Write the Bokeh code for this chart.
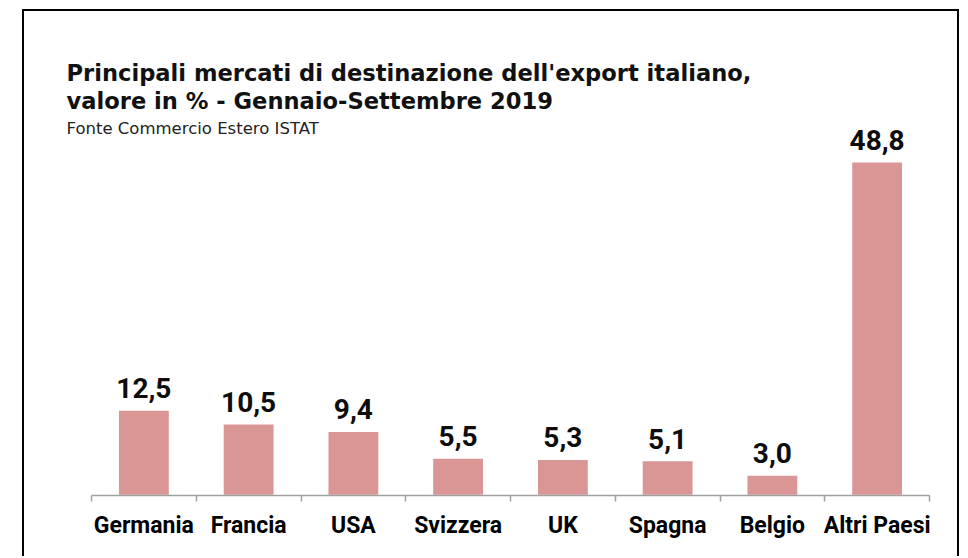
from bokeh.plotting import figure
from bokeh.models import ColumnDataSource, LabelSet, Label, FixedTicker, Range1d, LinearAxis
from bokeh.core.properties import value
from bokeh.embed import file_html
from bokeh.resources import INLINE

categories = ["Germania", "Francia", "USA", "Svizzera", "UK", "Spagna", "Belgio", "Altri Paesi"]
values = [12.5, 10.5, 9.4, 5.5, 5.3, 5.1, 3.0, 48.8]
value_labels = ["12,5", "10,5", "9,4", "5,5", "5,3", "5,1", "3,0", "48,8"]
title_line1 = "Principali mercati di destinazione dell'export italiano,"
title_line2 = "valore in % - Gennaio-Settembre 2019"
subtitle = "Fonte Commercio Estero ISTAT"

n = len(categories)
xs = [i + 0.5 for i in range(n)]
src = ColumnDataSource(dict(x=xs, value=values, label=value_labels, cat=categories))

# layout (pixels); the border is drawn outside the canvas
W, H = 937, 547
AX_LEFT = 67             # axis start, from canvas left
AX_RIGHT = 905           # axis end, from canvas left
AX_Y = 484               # axis line, from canvas top
PX_PER_UNIT = 6.84
px_per_cat = (AX_RIGHT - AX_LEFT) / n

x_start = -AX_LEFT / px_per_cat
x_end = n + (W - AX_RIGHT) / px_per_cat
y_end = AX_Y / PX_PER_UNIT

p = figure(width=W, height=H, output_backend="svg", toolbar_location=None, title=None,
           x_range=Range1d(x_start, x_end), y_range=Range1d(0, y_end),
           x_axis_type=None, y_axis_type=None,
           min_border_left=0, min_border_right=0, min_border_top=0, min_border_bottom=H - AX_Y,
           margin=(9, 0, 0, 22),
           styles={"border-top": "2px solid #000", "border-left": "2px solid #000",
                   "border-right": "2px solid #000"})
p.outline_line_color = None
p.xgrid.visible = False
p.ygrid.visible = False
p.background_fill_color = "white"
p.border_fill_color = "white"

p.vbar(x="x", top="value", width=0.49, bottom=0, source=src,
       fill_color="#D99694", line_color="white", line_width=1.5)

ax = LinearAxis(ticker=FixedTicker(ticks=xs, minor_ticks=list(range(n + 1))), bounds=(0, n))
ax.major_label_overrides = {x: c for x, c in zip(xs, categories)}
ax.major_tick_out = 0
ax.major_tick_in = 0
ax.minor_tick_out = 6
ax.minor_tick_in = 0
ax.minor_tick_line_color = "#a0a0a0"
ax.minor_tick_line_width = 1.5
ax.axis_line_color = "#a0a0a0"
ax.axis_line_width = 1.5
ax.major_label_standoff = 10
ax.major_label_text_font = "Roboto"
ax.major_label_text_font_style = "bold"
ax.major_label_text_font_size = "23px"
ax.major_label_text_color = "#000000"
p.add_layout(ax, "below")

labels = LabelSet(x="x", y="value", text="label", source=src, y_offset=12,
                  text_align="center", text_baseline="alphabetic",
                  text_font=value("Roboto"), text_font_style="bold", text_font_size="28px",
                  text_color="#0d0d0d")
p.add_layout(labels)

TX = 42
p.add_layout(Label(x=TX, y=423, x_units="screen", y_units="screen", text=title_line1,
                   text_font="DejaVu Sans", text_font_style="bold", text_font_size="22.6px",
                   text_color="#111111", text_baseline="alphabetic"))
p.add_layout(Label(x=TX, y=395, x_units="screen", y_units="screen", text=title_line2,
                   text_font="DejaVu Sans", text_font_style="bold", text_font_size="22.6px",
                   text_color="#111111", text_baseline="alphabetic"))
p.add_layout(Label(x=TX, y=367, x_units="screen", y_units="screen", text=subtitle,
                   text_font="DejaVu Sans", text_font_size="16.5px",
                   text_color="#222222", text_baseline="alphabetic"))

open("out.html", "w").write(file_html(p, INLINE))
